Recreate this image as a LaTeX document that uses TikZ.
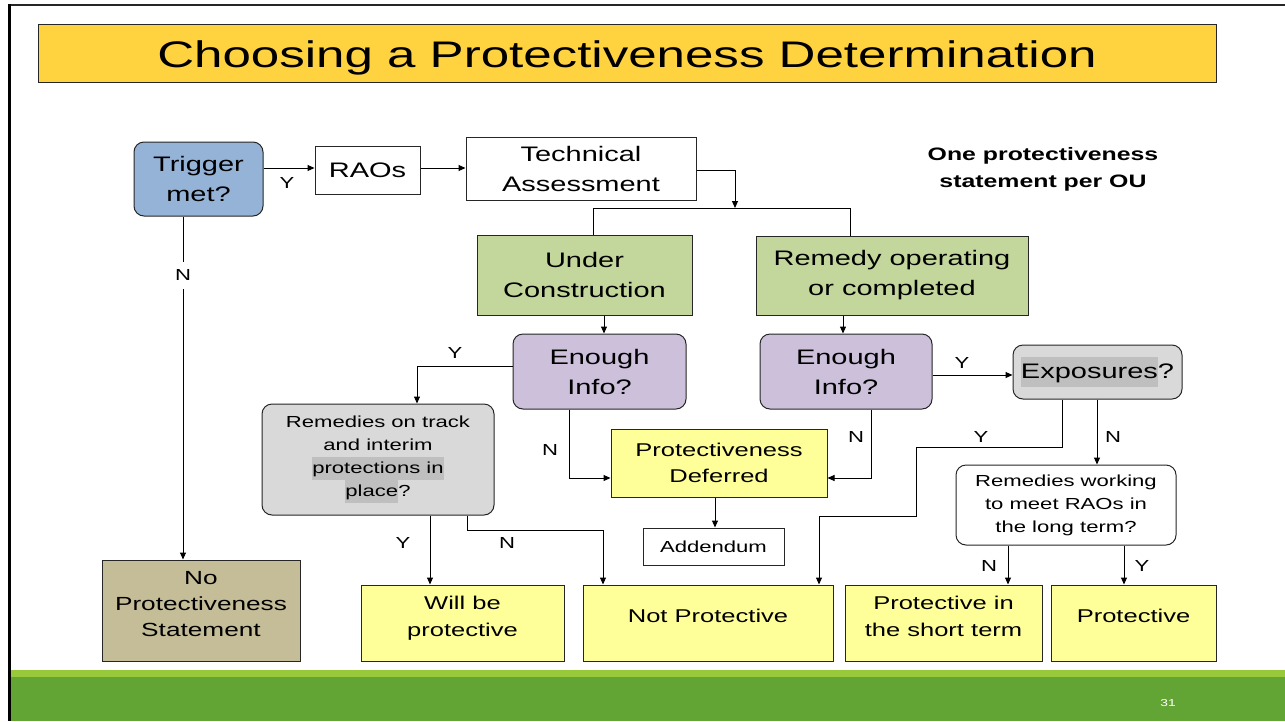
\documentclass[tikz,border=0pt]{standalone}
\usepackage{fontspec}
\setmainfont[FakeStretch=1.38]{Liberation Sans}
\usetikzlibrary{arrows.meta}
\definecolor{titlegold}{HTML}{FFD240}
\definecolor{trigblue}{HTML}{95B3D7}
\definecolor{stagegreen}{HTML}{C3D69B}
\definecolor{infolilac}{HTML}{CCC0DA}
\definecolor{askgray}{HTML}{D9D9D9}
\definecolor{markgray}{HTML}{BFBFBF}
\definecolor{resultyellow}{HTML}{FFFF99}
\definecolor{nonetan}{HTML}{C4BD97}
\definecolor{bandlight}{HTML}{97C93B}
\definecolor{banddark}{HTML}{62A535}
\definecolor{edge}{HTML}{262626}
\tikzset{
  box/.style={draw=edge, line width=1pt, align=center, inner sep=0pt, font=\fontsize{21}{30}\selectfont},
  rbox/.style={box, rounded corners=10pt},
  small/.style={font=\fontsize{16}{23}\selectfont},
  outcome/.style={box, fill=resultyellow, minimum height=76pt, font=\fontsize{18.5}{27}\selectfont, text depth=14pt},
  yn/.style={font=\fontsize{16}{18}\selectfont, inner sep=1pt},
  link/.style={draw=black, line width=1pt},
  arr/.style={link, -{Triangle[length=7pt, width=6pt]}},
}
\newcommand{\mk}[1]{\setlength{\fboxsep}{0pt}\colorbox{markgray}{\strut #1}}
\begin{document}
\begin{tikzpicture}[x=1pt, y=-1pt]
\useasboundingbox (0,0) rectangle (1285,721);
\fill[white] (0,0) rectangle (1285,721);
% slide frame and footer band
\draw[line width=2.5pt, edge] (9,5) -- (1285,5);
\draw[line width=3pt, black] (9,4) -- (9,721);
\fill[bandlight] (10.5,670) rectangle (1285,677);
\fill[banddark] (10.5,677) rectangle (1285,721);
\node[text=white, font=\fontsize{10}{12}\selectfont] (pg) at (1168,703) {31};
% title bar
\node[draw=edge, line width=1pt, fill=titlegold, minimum width=1178pt, minimum height=58pt, inner sep=0pt,
      font=\fontsize{37}{40}\selectfont, text height=36pt, text depth=8pt] (title) at (627,53)
  {Choosing a Protectiveness Determination};
% note
\node[align=center, font=\bfseries\fontsize{18}{27}\selectfont] (note) at (1043,169)
  {One protectiveness\\statement per OU};
% process nodes
\node[rbox, fill=trigblue, minimum width=129pt, minimum height=74pt] (trig) at (198.5,179) {Trigger\\met?};
\node[box, fill=white, minimum width=105pt, minimum height=48pt] (rao) at (367.5,170) {RAOs};
\node[box, fill=white, minimum width=230pt, minimum height=63pt] (tech) at (581,168.5) {Technical\\Assessment};
\node[box, fill=stagegreen, minimum width=215pt, minimum height=80pt] (uc) at (584.5,275) {Under\\Construction};
\node[box, fill=stagegreen, minimum width=272pt, minimum height=79pt] (roc) at (892,275.5) {Remedy operating\\or completed};
\node[rbox, fill=infolilac, minimum width=173pt, minimum height=75pt] (eil) at (599.5,371.5) {Enough\\Info?};
\node[rbox, fill=infolilac, minimum width=172pt, minimum height=75pt] (eir) at (846,371.5) {Enough\\Info?};
\node[rbox, fill=askgray, minimum width=169pt, minimum height=54pt] (exp) at (1097.5,372) {\mk{Exposures}?};
\node[rbox, fill=askgray, minimum width=232pt, minimum height=111pt, small] (rot) at (378,459.5)
  {Remedies on track\\and interim\\\mk{protections in}\\\mk{place}?};
\node[box, fill=resultyellow, minimum width=216pt, minimum height=68pt, font=\fontsize{18.5}{26}\selectfont] (pd) at (719,463) {Protectiveness\\Deferred};
\node[box, fill=white, minimum width=141pt, minimum height=37pt, small] (add) at (713.5,546.5) {Addendum};
\node[rbox, fill=white, minimum width=220pt, minimum height=80pt, small] (rw) at (1066,505)
  {Remedies working\\to meet RAOs in\\the long term?};
% outcomes
\node[box, fill=nonetan, minimum width=198pt, minimum height=101pt, font=\fontsize{19}{26}\selectfont, text depth=13pt] (nps) at (201,610.5) {No\\Protectiveness\\Statement};
\node[outcome, minimum width=203pt] (wbp) at (462.5,623) {Will be\\protective};
\node[outcome, minimum width=250pt] (np) at (708,623) {Not Protective};
\node[outcome, minimum width=197pt] (pst) at (943.5,623) {Protective in\\the short term};
\node[outcome, minimum width=165pt] (prot) at (1133.5,623) {Protective};
% junction points
\coordinate (split) at (735,208);
% connectors
\draw[arr] (trig.east |- 0,168) -- (rao.west |- 0,168);
\node[yn] (ty) at (287,183) {Y};
\draw[arr] (rao.east |- 0,168) -- (tech.west |- 0,168);
\draw[arr] (tech.east |- 0,170) -| (split);
\draw[link] (uc.north -| 593,0) -- (593,208) -- (850,208) -- (roc.north -| 850,0);
\draw[link] (trig.south -| 183,0) -- (183,262);
\node[yn] (tn) at (183,275) {N};
\draw[arr] (183,289) -- (nps.north -| 183,0);
\draw[arr] (uc.south -| 604,0) -- (eil.north -| 604,0);
\draw[arr] (roc.south -| 843,0) -- (eir.north -| 843,0);
\draw[arr] (eil.west |- 0,366) -| (rot.north -| 417,0);
\node[yn] (ely) at (455,353) {Y};
\draw[arr] (eil.south -| 569,0) |- (pd.west |- 0,478);
\node[yn] (eln) at (550,450) {N};
\draw[arr] (eir.east |- 0,375) -- (exp.west |- 0,375);
\node[yn] (ery) at (962,363) {Y};
\draw[arr] (eir.south -| 871,0) |- (pd.east |- 0,478);
\node[yn] (ern) at (856,437) {N};
\draw[arr] (exp.south -| 1062,0) -- (1062,447) -- (916,447) -- (916,516) -- (819,516) -- (np.north -| 819,0);
\node[yn] (exy) at (981,437) {Y};
\draw[arr] (exp.south -| 1097,0) -- (rw.north -| 1097,0);
\node[yn] (exn) at (1113,437) {N};
\draw[arr] (rot.south -| 430,0) -- (wbp.north -| 430,0);
\node[yn] (roy) at (403,543) {Y};
\draw[arr] (rot.south -| 467,0) -- (467,530) -- (603,530) -- (np.north -| 603,0);
\node[yn] (ron) at (507,543) {N};
\draw[arr] (pd.south -| 715,0) -- (add.north -| 715,0);
\draw[arr] (rw.south -| 1008,0) -- (pst.north -| 1008,0);
\node[yn] (rwn) at (989,566) {N};
\draw[arr] (rw.south -| 1124,0) -- (prot.north -| 1124,0);
\node[yn] (rwy) at (1142,566) {Y};
\end{tikzpicture}
\end{document}
